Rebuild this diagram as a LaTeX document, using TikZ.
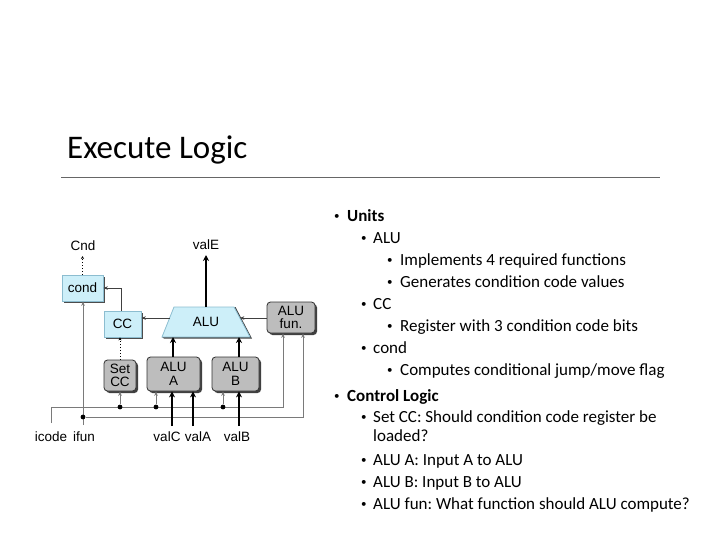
\documentclass[tikz,border=0pt]{standalone}
\usepackage{fontspec}
\setmainfont{Carlito}
\newfontfamily\diagfont{Liberation Sans}
\usetikzlibrary{arrows.meta,calc}
\frenchspacing
\definecolor{boxblue}{HTML}{CDEFF9}
\definecolor{boxblueedge}{HTML}{8CBDD0}
\definecolor{boxgray}{HTML}{BDBDBD}
\definecolor{wiregray}{HTML}{7A7A7A}
\definecolor{rulegray}{HTML}{666666}
\tikzset{
  bluebox/.style={draw=boxblueedge, fill=boxblue, line width=0.8pt, inner sep=0pt},
  graybox/.style={draw=black!80, fill=boxgray, line width=0.8pt, rounded corners=3.5pt, inner sep=0pt, align=center},
  shadowbox/.style={fill=black!75, rounded corners=#1},
  dlabel/.style={font=\diagfont\fontsize{13.5}{15}\selectfont, inner sep=0pt},
  btext/.style={font=\diagfont\fontsize{13.5}{14}\selectfont},
  thinarrow/.style={draw=black!75, line width=0.7pt, -{Stealth[length=4.5pt,width=3.6pt]}},
  wire/.style={draw=wiregray, line width=0.9pt},
  wirearrow/.style={wire, -{Stealth[length=4.5pt,width=3.6pt]}},
  thickarrow/.style={draw=black, line width=2.4pt, -{Stealth[length=6pt,width=6pt]}},
  dotarrow/.style={draw=black, line width=0.9pt, dotted, -{Stealth[length=3pt,width=3pt]}},
  jdot/.style={circle, fill=black, inner sep=0pt, minimum size=4.8pt},
  bul/.style={anchor=base west, inner sep=0pt, font=\fontsize{17}{20}\selectfont},
  dot/.style={anchor=base west, inner sep=0pt, font=\fontsize{11}{12}\selectfont},
}
\begin{document}
\begin{tikzpicture}[x=1pt,y=-1pt]
\useasboundingbox (0,0) rectangle (719,539);
% title
\node[anchor=base west, inner sep=0pt, font=\fontsize{33}{38}\selectfont] (title) at (67,158) {Execute Logic};
\coordinate (ruleL) at (61,177.5);
\coordinate (ruleR) at (660,177.5);
\draw[rulegray, line width=1.8pt] (ruleL) -- (ruleR);

% ---------- diagram ----------
% shadows
\fill[black!70] (64,277) rectangle (105,303);
\fill[black!70] (106,313) rectangle (143,339);
\fill[shadowbox=3.5pt] (269,304) rectangle (317,335);
\fill[shadowbox=3.5pt] (106,362) rectangle (138,393);
\fill[shadowbox=3.5pt] (149,359) rectangle (202,393);
\fill[shadowbox=3.5pt] (214,359) rectangle (261,393);
% boxes
\node[bluebox, minimum width=41pt, minimum height=26pt] (cond) at (82.5,288) {};
\node[btext] at (cond) {cond};
\node[bluebox, minimum width=37pt, minimum height=26pt] (cc) at (122.5,324) {};
\node[btext] at (cc) {CC};
\node[graybox, minimum width=48pt, minimum height=31pt, btext] (alufun) at (291,317.5) {ALU\\[-1pt]fun.};
\node[graybox, minimum width=32pt, minimum height=31pt, btext] (setcc) at (120,375.5) {Set\\[-1pt]CC};
\node[graybox, minimum width=53pt, minimum height=34pt, btext] (alua) at (173.5,374) {ALU\\[0pt]A};
\node[graybox, minimum width=47pt, minimum height=34pt, btext] (alub) at (235.5,374) {ALU\\[0pt]B};
% ALU trapezoid
\coordinate (tl) at (174,307);
\coordinate (tr) at (234,307);
\coordinate (br) at (250,337);
\coordinate (bl) at (162,337);
\fill[black!75] ($(tr)+(1.5,0)$) -- ($(br)+(2,1.5)$) -- ($(bl)+(2,1.5)$) -- (bl) -- (br) -- (tr) -- cycle;
\filldraw[fill=boxblue, draw=boxblueedge, line width=0.8pt] (tl) -- (tr) -- (br) -- (bl) -- cycle;
\node[btext, inner sep=0pt] (alu) at (206,322) {ALU};
\coordinate (aluL) at (169.6,318);
\coordinate (aluR) at (239.9,318);
\coordinate (aluA) at (173,337);
\coordinate (aluB) at (239,337);
\coordinate (aluT) at (206,307);

% labels
\node[dlabel] (cnd) at (83,246) {Cnd};
\node[dlabel] (vale) at (206,245) {valE};
\node[dlabel] (icode) at (51,437) {icode};
\node[dlabel] (ifun) at (84,437) {ifun};
\node[dlabel] (valc) at (167,437) {valC};
\node[dlabel] (vala) at (198,437) {valA};
\node[dlabel] (valb) at (237,437) {valB};

% top connectors
\draw[thickarrow] (aluT) -- (206,255);
\draw[dotarrow] (cond.north) -- (82.5,256);
\coordinate (ccbend) at (121,288);
\draw[thinarrow] (cc.north -| ccbend) -- (ccbend) -- (cond.east |- ccbend);
\draw[thinarrow] (aluL) -- (cc.east |- aluL);
\draw[thinarrow] (alufun.west |- aluR) -- (aluR);
\draw[dotarrow] (setcc.north) -- (cc.south -| setcc.north);
\draw[thickarrow] (alua.north -| aluA) -- (aluA);
\draw[thickarrow] (alub.north -| aluB) -- (aluB);

% bottom wires
\coordinate (icodeT) at (51,423);
\coordinate (icodeC) at (51,407);
\coordinate (icodeE) at (283,407);
\draw[wirearrow] (icodeT) -- (icodeC) -- (icodeE) -- (alufun.south -| icodeE);
\node[jdot] (j1) at (120,407) {};
\node[jdot] (j2) at (156,407) {};
\node[jdot] (j3) at (223,407) {};
\draw[wirearrow] (j1) -- (setcc.south -| j1);
\draw[wirearrow] (j2) -- (alua.south -| j2);
\draw[wirearrow] (j3) -- (alub.south -| j3);
\coordinate (ifunT) at (83,425);
\draw[wirearrow] (ifunT) -- (cond.south -| ifunT);
\node[jdot] (j4) at (83,417) {};
\coordinate (ifunE) at (303,417);
\draw[wirearrow] (j4) -- (ifunE) -- (alufun.south -| ifunE);
% value inputs
\draw[thickarrow] (172,426) -- (alua.south -| 172,0);
\draw[thickarrow] (193,426) -- (alua.south -| 193,0);
\draw[thickarrow] (239,426) -- (alub.south -| 239,0);

% ---------- bullets ----------
\node[dot] (b1) at (334,219) {•};
\node[bul, font=\bfseries\fontsize{17}{20}\selectfont] (t1) at (347,221) {Units};
\node[dot] (b2) at (361,241) {•};
\node[bul] (t2) at (373,243) {ALU};
\node[dot] (b3) at (387,263) {•};
\node[bul] (t3) at (400,265) {Implements 4 required functions};
\node[dot] (b4) at (387,285) {•};
\node[bul] (t4) at (400,287) {Generates condition code values};
\node[dot] (b5) at (361,307) {•};
\node[bul] (t5) at (373,309) {CC};
\node[dot] (b6) at (387,329) {•};
\node[bul] (t6) at (400,331) {Register with 3 condition code bits};
\node[dot] (b7) at (361,351) {•};
\node[bul] (t7) at (373,353) {cond};
\node[dot] (b8) at (387,373) {•};
\node[bul] (t8) at (400,375) {Computes conditional jump/move flag};
\node[dot] (b9) at (334,399) {•};
\node[bul, font=\bfseries\fontsize{17}{20}\selectfont] (t9) at (347,401) {Control Logic};
\node[dot] (b10) at (361,420) {•};
\node[bul] (t10) at (373,422) {Set CC: Should condition code register be};
\node[bul] (t10b) at (373,441) {loaded?};
\node[dot] (b11) at (361,463) {•};
\node[bul] (t11) at (373,465) {ALU A: Input A to ALU};
\node[dot] (b12) at (361,485) {•};
\node[bul] (t12) at (373,487) {ALU B: Input B to ALU};
\node[dot] (b13) at (361,507) {•};
\node[bul] (t13) at (373,509) {ALU fun: What function should ALU compute?};
\end{tikzpicture}
\end{document}
